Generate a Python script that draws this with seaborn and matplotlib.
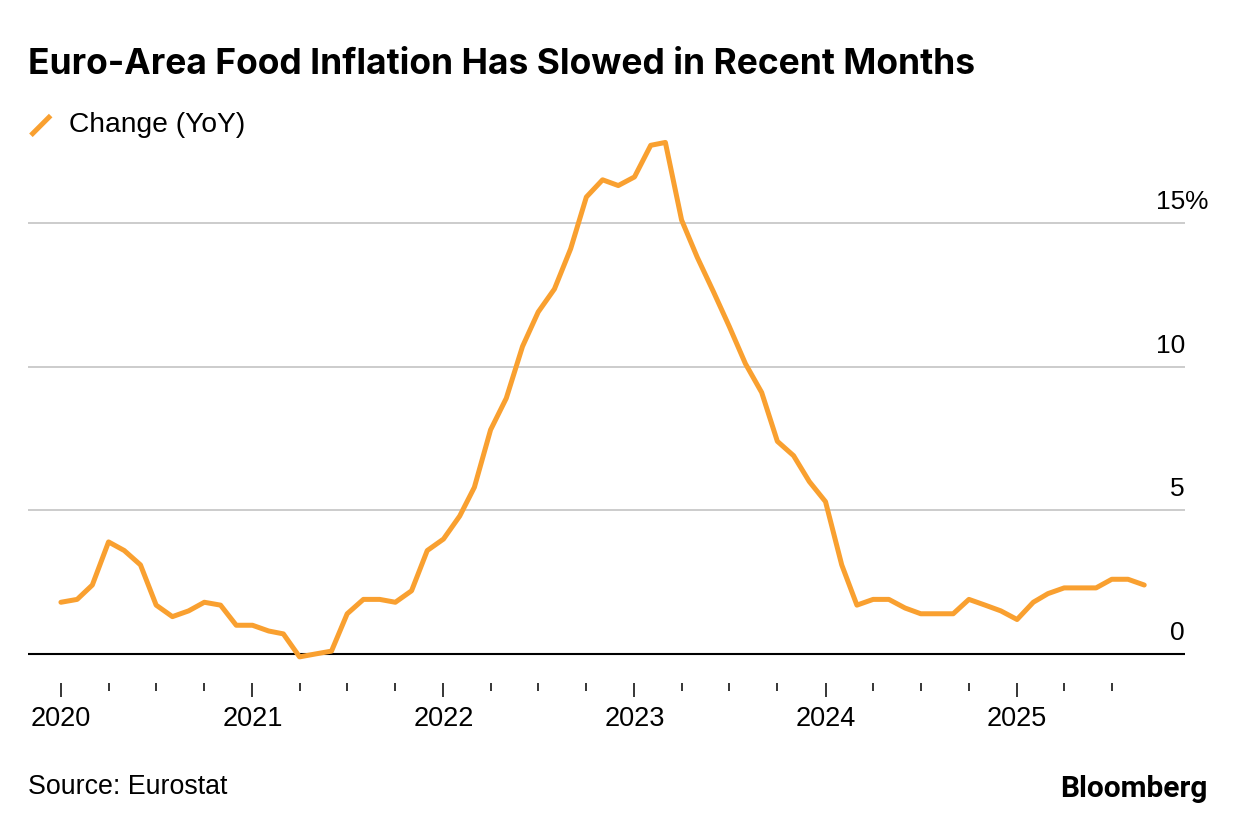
import numpy as np
import pandas as pd
import seaborn as sns
import matplotlib.pyplot as plt
import matplotlib.dates as mdates
from matplotlib.lines import Line2D
from matplotlib.legend_handler import HandlerBase

# monthly YoY change, Jan 2020 - Sep 2025
vals_2020 = [1.8, 1.9, 2.4, 3.9, 3.6, 3.1, 1.7, 1.3, 1.5, 1.8, 1.7, 1.0]
vals_2021 = [1.0, 0.8, 0.7, -0.1, 0.0, 0.1, 1.4, 1.9, 1.9, 1.8, 2.2, 3.6]
vals_2022 = [4.0, 4.8, 5.8, 7.8, 8.9, 10.7, 11.9, 12.7, 14.1, 15.9, 16.5, 16.3]
vals_2023 = [16.6, 17.7, 17.8, 15.1, 13.8, 12.6, 11.4, 10.1, 9.1, 7.4, 6.9, 6.0]
vals_2024 = [5.3, 3.1, 1.7, 1.9, 1.9, 1.6, 1.4, 1.4, 1.4, 1.9, 1.7, 1.5]
vals_2025 = [1.2, 1.8, 2.1, 2.3, 2.3, 2.3, 2.6, 2.6, 2.4]

years = [2020, 2021, 2022, 2023, 2024, 2025]
y_ticks = [0, 5, 10, 15]
series_label = 'Change (YoY)'
title = 'Euro-Area Food Inflation Has Slowed in Recent Months'
source = 'Source: Eurostat'

values = vals_2020 + vals_2021 + vals_2022 + vals_2023 + vals_2024 + vals_2025
df = pd.DataFrame({
    'month': pd.date_range('2020-01-01', periods = len(values), freq = 'MS'),
    'change': values
})

orange = '#F9A030'

sns.set_theme(style = 'white')
plt.rcParams['font.family'] = ['Liberation Sans', 'DejaVu Sans']


class SlashHandler(HandlerBase):
    # legend key drawn as a short diagonal stroke
    def create_artists(self, legend, orig_handle, xdescent, ydescent,
                       width, height, fontsize, trans):
        ln = Line2D(
            [-xdescent, -xdescent + width],
            [-ydescent - height * 0.15, -ydescent + height * 0.85],
            color = orig_handle.get_color(),
            linewidth = orig_handle.get_linewidth(),
            solid_capstyle = 'butt',
            transform = trans
        )
        return [ln]


fig = plt.figure(figsize = (12.37, 8.26), dpi = 100)
ax = fig.add_axes([0.0226, 0.1731, 0.9354, 0.6635])

sns.lineplot(
    x = 'month',
    y = 'change',
    data = df,
    ax = ax,
    color = orange,
    linewidth = 3.6,
    label = series_label
)

ax.axhline(0, color = 'black', linewidth = 1.5, zorder = 1)

# axes ranges
ax.set_xlim(pd.Timestamp('2019-10-30'), pd.Timestamp('2025-11-18'))
ax.set_ylim(-1.01, 18.06)

# y grid + labels sitting above the lines at the right
ax.set_yticks(y_ticks)
ax.grid(axis = 'y', color = '#CCCCCC', linewidth = 1.4)
ax.grid(axis = 'x', visible = False)
ax.tick_params(axis = 'y', length = 0, labelleft = False, labelright = False)
for v in y_ticks:
    ax.annotate(
        f'{v}', xy = (1, v), xycoords = ax.get_yaxis_transform(),
        xytext = (0, 10), textcoords = 'offset points',
        ha = 'right', va = 'baseline', fontsize = 19, color = 'black'
    )
ax.annotate(
    '%', xy = (1, y_ticks[-1]), xycoords = ax.get_yaxis_transform(),
    xytext = (0, 10), textcoords = 'offset points',
    ha = 'left', va = 'baseline', fontsize = 19, color = 'black'
)

# x ticks: years major, quarters minor
year_dates = [pd.Timestamp(f'{y}-01-01') for y in years]
quarter_dates = [d for d in pd.date_range('2020-01-01', df['month'].max(), freq = 'QS')
                 if d.month != 1]
ax.set_xticks(year_dates)
ax.set_xticklabels([str(y) for y in years])
ax.set_xticks(quarter_dates, minor = True)
ax.tick_params(axis = 'x', which = 'major', direction = 'out', length = 10,
               width = 1.1, color = 'black', pad = 6.5, labelsize = 19.5,
               labelcolor = 'black', bottom = True)
ax.tick_params(axis = 'x', which = 'minor', direction = 'out', length = 5.4,
               width = 1.1, color = 'black', bottom = True)
ax.set_xlabel('')
ax.set_ylabel('')

for s in ax.spines.values():
    s.set_visible(False)

# legend
handles, labels = ax.get_legend_handles_labels()
ax.legend(
    handles, labels,
    handler_map = {handles[0]: SlashHandler()},
    loc = 'upper left',
    bbox_to_anchor = (0.025, 0.864),
    bbox_transform = fig.transFigure,
    frameon = False,
    borderpad = 0,
    borderaxespad = 0,
    handlelength = 0.7,
    handleheight = 0.7,
    handletextpad = 0.65,
    fontsize = 20.3,
    labelcolor = 'black'
)

fig.text(0.0226, 1 - 74 / 826, title, fontsize = 25.5, fontweight = 'bold',
         family = ['Inter', 'Liberation Sans'],
         va = 'baseline', ha = 'left', color = 'black')
fig.text(0.0226, 1 - 794 / 826, source, fontsize = 19.3,
         va = 'baseline', ha = 'left', color = 'black')
fig.text(1208 / 1237, 1 - 797 / 826, 'Bloomberg', fontsize = 21.5,
         fontweight = 'bold', family = ['Roboto', 'Liberation Sans'],
         va = 'baseline', ha = 'right', color = 'black')

fig.savefig('out.png', dpi = 100, facecolor = 'white')
